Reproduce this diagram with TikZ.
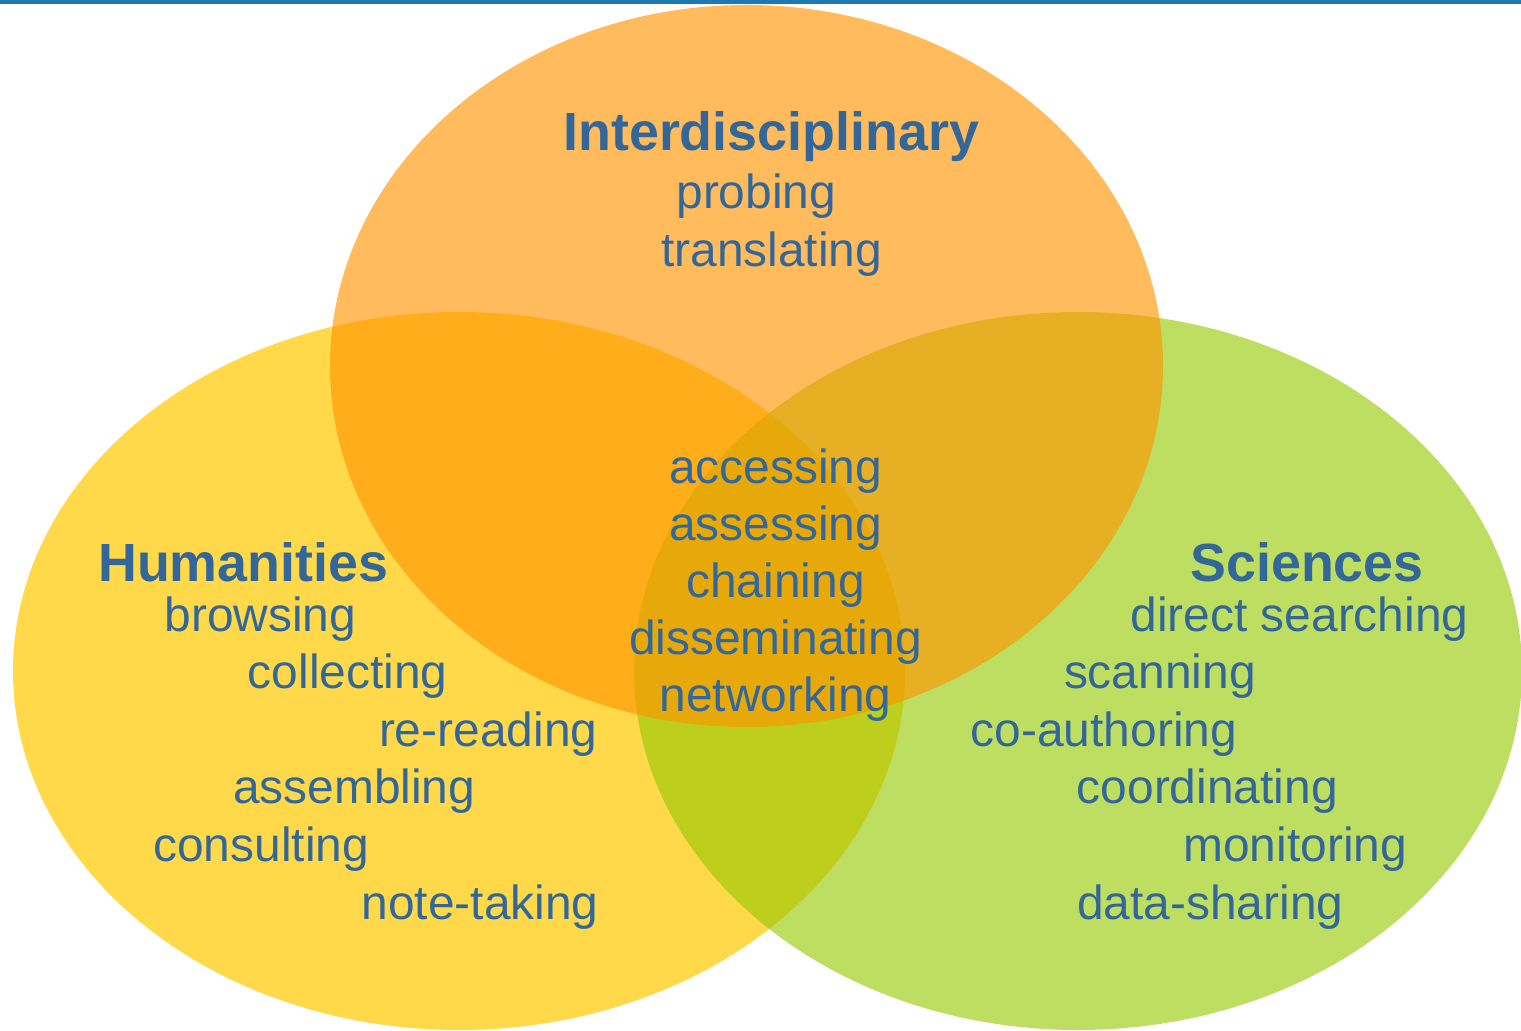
\documentclass[tikz,border=0pt]{standalone}
\usepackage{fontspec}
\setmainfont{Liberation Sans}
\definecolor{ruleblue}{RGB}{31,119,180}
\definecolor{textblue}{RGB}{52,103,153}
\definecolor{humyellow}{RGB}{255,217,74}
\definecolor{scigreen}{RGB}{150,202,0}
\definecolor{intorange}{RGB}{255,149,0}
\tikzstyle{head} = [inner sep=0pt, anchor=base west, text=textblue,
    font=\fontsize{26.9}{30}\selectfont\bfseries]
\tikzstyle{item} = [inner sep=0pt, anchor=base west, text=textblue,
    font=\fontsize{23.95}{28}\selectfont]
\tikzstyle{shared} = [item, anchor=base]
\begin{document}
\begin{tikzpicture}[x=0.5pt,y=-0.5pt]
      \useasboundingbox (0,0) rectangle (1521,1031);
      % We start with the three fields, yellow at the bottom
      \fill[humyellow] (459,671) ellipse [x radius=446, y radius=359];
      \fill[scigreen, fill opacity=0.62] (1078,671) ellipse [x radius=444, y radius=359];
      \fill[intorange, fill opacity=0.64] (746.5,366) ellipse [x radius=416.5, y radius=361];
      % rule along the top edge
      \fill[ruleblue] (0,0) rectangle (1521,3.7);

      % interdisciplinary
      \node[head] (int_head) at (563,151) {Interdisciplinary};
      \node[item] (int_probe) at (676,209) {probing};
      \node[item] (int_trans) at (660.7,266.5) {translating};

      % humanities
      \node[head] (hum_head) at (97.8,581.7) {Humanities};
      \node[item] (hum_browse) at (164.2,631.7) {browsing};
      \node[item] (hum_collect) at (247.4,688.3) {collecting};
      \node[item] (hum_reread) at (378.6,746.7) {re-reading};
      \node[item] (hum_assemble) at (232.6,803.3) {assembling};
      \node[item] (hum_consult) at (153,861.7) {consulting};
      \node[item] (hum_notes) at (361.2,919.3) {note-taking};

      % sciences
      \node[head] (sci_head) at (1190,581.7) {Sciences};
      \node[item] (sci_search) at (1130,631.7) {direct searching};
      \node[item] (sci_scan) at (1063.6,688.3) {scanning};
      \node[item] (sci_coauth) at (970.4,746.7) {co-authoring};
      \node[item] (sci_coord) at (1076.4,803.3) {coordinating};
      \node[item] (sci_monitor) at (1182.9,861.7) {monitoring};
      \node[item] (sci_data) at (1076.7,919.3) {data-sharing};

      % shared by all three, centred
      \node[shared] (all_access) at (775.5,483.3) {accessing};
      \node[shared] (all_assess) at (775.5,540.5) {assessing};
      \node[shared] (all_chain) at (775.5,597.7) {chaining};
      \node[shared] (all_dissem) at (775.5,654.9) {disseminating};
      \node[shared] (all_network) at (775.5,711.7) {networking};
\end{tikzpicture}
\end{document}
